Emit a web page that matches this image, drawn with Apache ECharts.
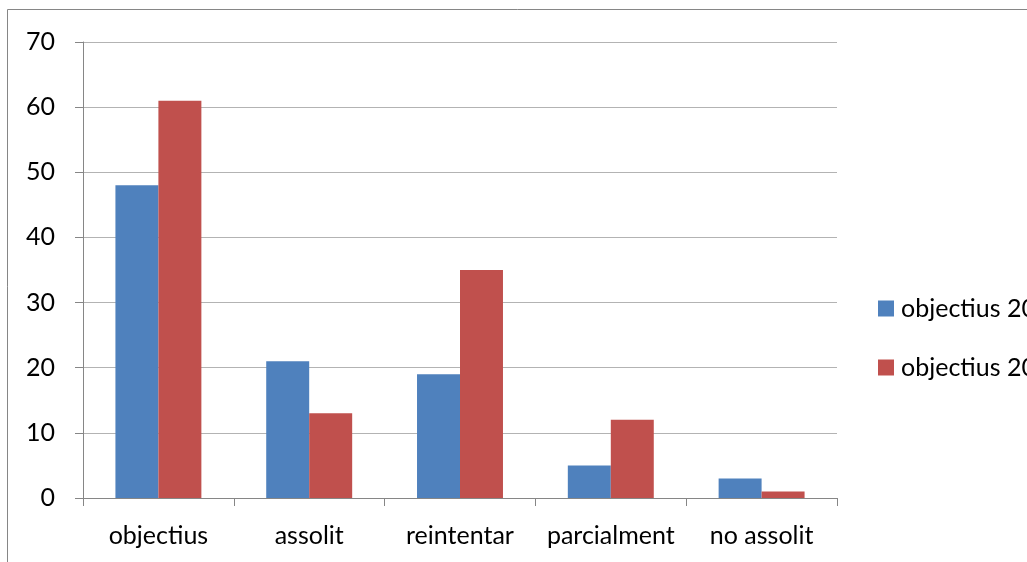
<!DOCTYPE html>
<html lang="ca">
<head>
    <meta charset="UTF-8">
    <title>objectius</title>
    <script src="https://cdn.jsdelivr.net/npm/echarts@6/dist/echarts.min.js"></script>
    <style>
        html, body { margin: 0; width: 100%; height: 100%; background: #fff; }
        #chart { width: 1027px; height: 562px; }
    </style>
</head>
<body>
    <div id="chart"></div>
    <script>
        var categories = ['objectius', 'assolit', 'reintentar', 'parcialment\nassolit', 'no assolit'];
        var seriesNames = ['objectius 2011', 'objectius 2012'];
        var blueValues = [48, 21, 19, 5, 3];
        var redValues = [61, 13, 35, 12, 1];
        var yTicks = { min: 0, max: 70, interval: 10 };

        var font = 'Lato, "Open Sans", sans-serif';
        var chart = echarts.init(document.getElementById('chart'));
        chart.setOption({
            animation: false,
            graphic: [{
                type: 'rect',
                shape: { x: 7.5, y: 9.5, width: 1100, height: 700 },
                style: { fill: 'none', stroke: '#868686', lineWidth: 1 },
                silent: true
            }],
            grid: { left: 83, right: 190, top: 42, bottom: 64, outerBoundsMode: 'none', containLabel: false },
            legend: {
                orient: 'vertical',
                left: 878,
                top: 296,
                padding: 0,
                itemWidth: 16,
                itemHeight: 16,
                itemGap: 34,
                icon: 'rect',
                textStyle: { fontFamily: font, fontSize: 25, color: '#000', padding: [0, 0, 0, 2] },
                data: seriesNames
            },
            xAxis: {
                type: 'category',
                data: categories,
                axisLine: { lineStyle: { color: '#868686' } },
                axisTick: { show: true, length: 8, alignWithLabel: false, lineStyle: { color: '#868686' } },
                axisLabel: { fontFamily: font, fontSize: 25, color: '#000', margin: 18, lineHeight: 40, interval: 0 }
            },
            yAxis: {
                type: 'value',
                min: yTicks.min,
                max: yTicks.max,
                interval: yTicks.interval,
                axisLine: { show: true, lineStyle: { color: '#868686' } },
                axisTick: { show: true, length: 8, lineStyle: { color: '#868686' } },
                splitLine: { lineStyle: { color: '#b3b3b3' } },
                axisLabel: { fontFamily: font, fontSize: 25, color: '#000', margin: 28 }
            },
            series: [{
                name: seriesNames[0],
                type: 'bar',
                data: blueValues,
                barGap: '0%',
                barCategoryGap: '43%',
                itemStyle: { color: '#4F81BD' }
            }, {
                name: seriesNames[1],
                type: 'bar',
                data: redValues,
                itemStyle: { color: '#C0504D' }
            }]
        });
    </script>
</body>
</html>
